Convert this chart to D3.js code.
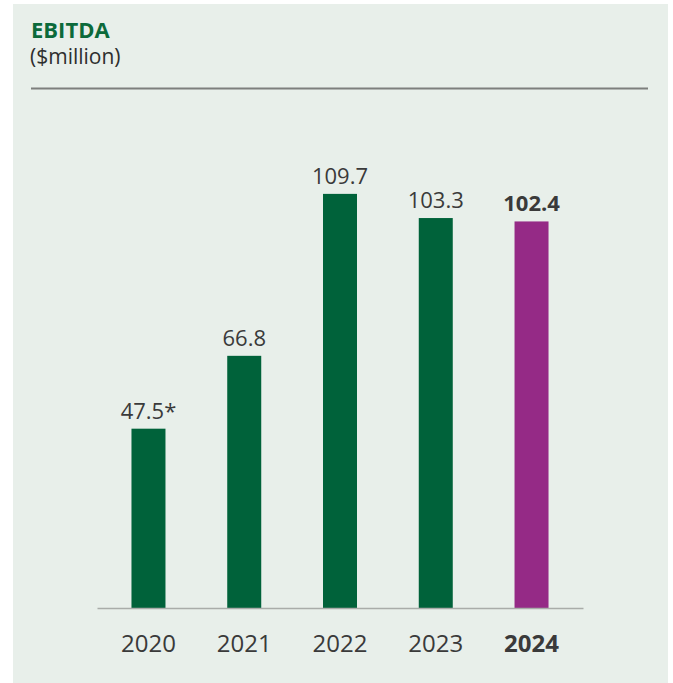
<!DOCTYPE html>
<html lang="en">
<head>
  <meta charset="UTF-8">
  <script src="https://cdn.jsdelivr.net/npm/d3@7/dist/d3.min.js"></script>
  <title>EBITDA</title>
  <style>
    body { margin: 0; background: #fff; }
    svg { display: block; font-family: "Open Sans", sans-serif; }
    .axis text { font-size: 24px; fill: #3a3a3a; }
    .axis path { stroke: #a9aca9; stroke-width: 1.5; }
    .value { font-size: 22px; fill: #3a3a3a; text-anchor: middle; }
  </style>
</head>
<body>
<div id="chart"></div>
<script>
  // data
  var years = ["2020", "2021", "2022", "2023", "2024"];
  var ebitda = [47.5, 66.8, 109.7, 103.3, 102.4];
  var notes = ["*", "", "", "", ""];
  var highlight = "2024";

  var W = 673, H = 683;
  var baseY = 608;

  var svg = d3.select("#chart")
    .append("svg")
    .attr("width", W)
    .attr("height", H);

  // panel background
  svg.append("rect")
    .attr("x", 13).attr("y", 4)
    .attr("width", 655).attr("height", H - 4)
    .attr("fill", "#e8efea");

  // title block
  svg.append("text")
    .attr("x", 31).attr("y", 38)
    .attr("font-size", 22).attr("font-weight", 700)
    .attr("fill", "#0c6a3b")
    .text("EBITDA");

  svg.append("text")
    .attr("x", 30).attr("y", 64)
    .attr("font-size", 21)
    .attr("fill", "#2e2e2e")
    .text("($million)");

  svg.append("line")
    .attr("x1", 31).attr("x2", 648)
    .attr("y1", 88.5).attr("y2", 88.5)
    .attr("stroke", "#7d7f7d")
    .attr("stroke-width", 2);

  var xScale = d3.scaleBand()
    .domain(years)
    .range([97, 583])
    .paddingInner(0.645)
    .paddingOuter(0.36);

  var yScale = d3.scaleLinear()
    .domain([0, 120])
    .range([baseY, 155]);

  var rows = years.map(function (y, i) {
    return { year: y, value: ebitda[i], note: notes[i] };
  });

  svg.selectAll(".bar")
    .data(rows)
    .enter()
    .append("rect")
    .attr("class", "bar")
    .attr("x", function (d) { return xScale(d.year); })
    .attr("width", xScale.bandwidth())
    .attr("y", function (d) { return yScale(d.value); })
    .attr("height", function (d) { return baseY - yScale(d.value); })
    .attr("fill", function (d) { return d.year === highlight ? "#952a86" : "#00623a"; });

  svg.selectAll(".value")
    .data(rows)
    .enter()
    .append("text")
    .attr("class", "value")
    .attr("x", function (d) { return xScale(d.year) + xScale.bandwidth() / 2; })
    .attr("y", function (d) { return yScale(d.value) - 10; })
    .attr("font-weight", function (d) { return d.year === highlight ? 700 : 400; })
    .text(function (d) { return d.value.toFixed(1) + d.note; });

  // x axis
  var axis = svg.append("g")
    .attr("class", "axis")
    .attr("transform", "translate(0," + baseY + ")")
    .call(d3.axisBottom(xScale).tickSize(0).tickSizeOuter(0).tickPadding(27));

  axis.selectAll("text")
    .style("font-family", "'Open Sans', sans-serif")
    .attr("font-weight", function (d) { return d === highlight ? 700 : 400; });
</script>
</body>
</html>
